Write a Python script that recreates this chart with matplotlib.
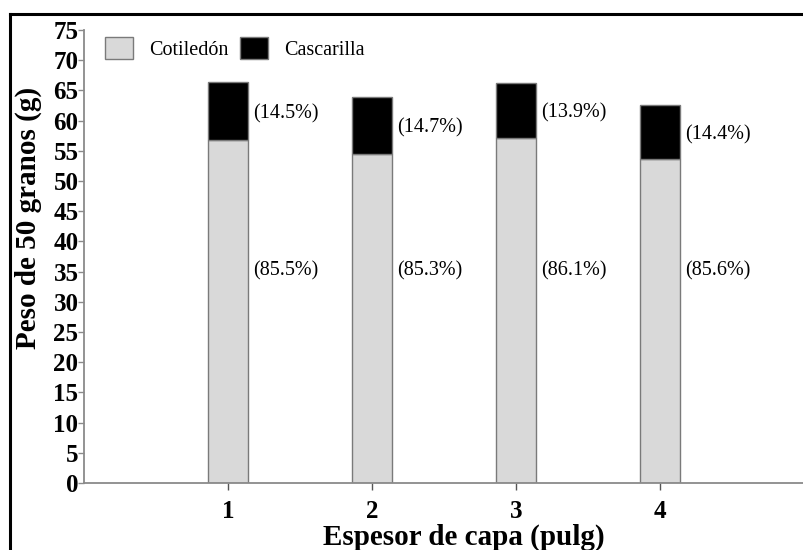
import matplotlib
matplotlib.use("Agg")
import matplotlib.pyplot as plt
from matplotlib.lines import Line2D
from matplotlib.patches import Patch
import numpy as np

# Layer thickness (in) and 50-grain weights
espesor = [1, 2, 3, 4]
peso_total = [66.4, 63.9, 66.3, 62.6]
pct_cotiledon = [85.5, 85.3, 86.1, 85.6]
pct_cascarilla = [14.5, 14.7, 13.9, 14.4]
yticks = list(range(0, 80, 5))

cotiledon = [t * p / 100 for t, p in zip(peso_total, pct_cotiledon)]
cascarilla = [t * p / 100 for t, p in zip(peso_total, pct_cascarilla)]

plt.rcParams["font.family"] = ["Liberation Serif", "DejaVu Serif"]

fig = plt.figure(figsize=(8.04, 5.5), dpi=100)
ax = fig.add_axes([84 / 804, 67 / 550, 720 / 804, 453 / 550])

gray = "#8a8a8a"
width = 0.277
ax.bar(espesor, cotiledon, width=width, color="#d9d9d9", edgecolor="#7a7a7a",
       linewidth=1.0, label="Cotiledón", zorder=2)
ax.bar(espesor, cascarilla, width=width, bottom=cotiledon, color="black",
       edgecolor="#7a7a7a", linewidth=1.0, label="Cascarilla", zorder=2)

# Percentage annotations next to each segment
for x, c, s, pc, ps in zip(espesor, cotiledon, cascarilla, pct_cotiledon, pct_cascarilla):
    ax.text(x + width / 2 + 0.035, 35.2, f"({pc}%)", ha="left", va="center", fontsize=14.5)
    ax.text(x + width / 2 + 0.035, c + s / 2 - 0.4, f"({ps}%)", ha="left", va="center", fontsize=14.5)

ax.set_xlim(0, 5)
ax.set_ylim(0, 75)
ax.set_xticks(espesor)
ax.set_xticklabels([str(v) for v in espesor], fontsize=18, fontweight="bold")
ax.set_yticks(yticks)
ax.set_yticklabels([str(v) for v in yticks], fontsize=18, fontweight="bold")

for side in ("top", "right"):
    ax.spines[side].set_visible(False)
for side in ("left", "bottom"):
    ax.spines[side].set_color(gray)
    ax.spines[side].set_linewidth(1.3)

ax.tick_params(axis="y", direction="out", length=4, width=1, color=gray, pad=0)
ax.tick_params(axis="x", direction="out", length=5, width=1, color="#555555", pad=7)

ax.set_xlabel("Espesor de capa (pulg)", fontsize=21, fontweight="bold")
ax.set_ylabel("Peso de 50 granos (g)", fontsize=21, fontweight="bold")
ax.xaxis.set_label_coords(0.527, -0.089)
ax.yaxis.set_label_coords(-0.058, 0.585)

handles = [Patch(facecolor="#d9d9d9", edgecolor="#7a7a7a", linewidth=1.0),
           Patch(facecolor="black", edgecolor="#7a7a7a", linewidth=1.0)]
ax.legend(handles, ["Cotiledón", "Cascarilla"], loc="upper left",
          bbox_to_anchor=(0.029, 0.985), ncol=2, frameon=False, fontsize=14.5,
          handlelength=1.4, handleheight=1.34, handletextpad=0.8,
          columnspacing=0.57, borderaxespad=0, borderpad=0)

# Outer frame (top and left edges)
fig.add_artist(Line2D([10 / 804, 1.0], [1 - 14 / 550, 1 - 14 / 550],
                      transform=fig.transFigure, color="black", linewidth=2.2))
fig.add_artist(Line2D([10 / 804, 10 / 804], [0.0, 1 - 14 / 550],
                      transform=fig.transFigure, color="black", linewidth=2.2))

fig.savefig("out.png", dpi=100)
